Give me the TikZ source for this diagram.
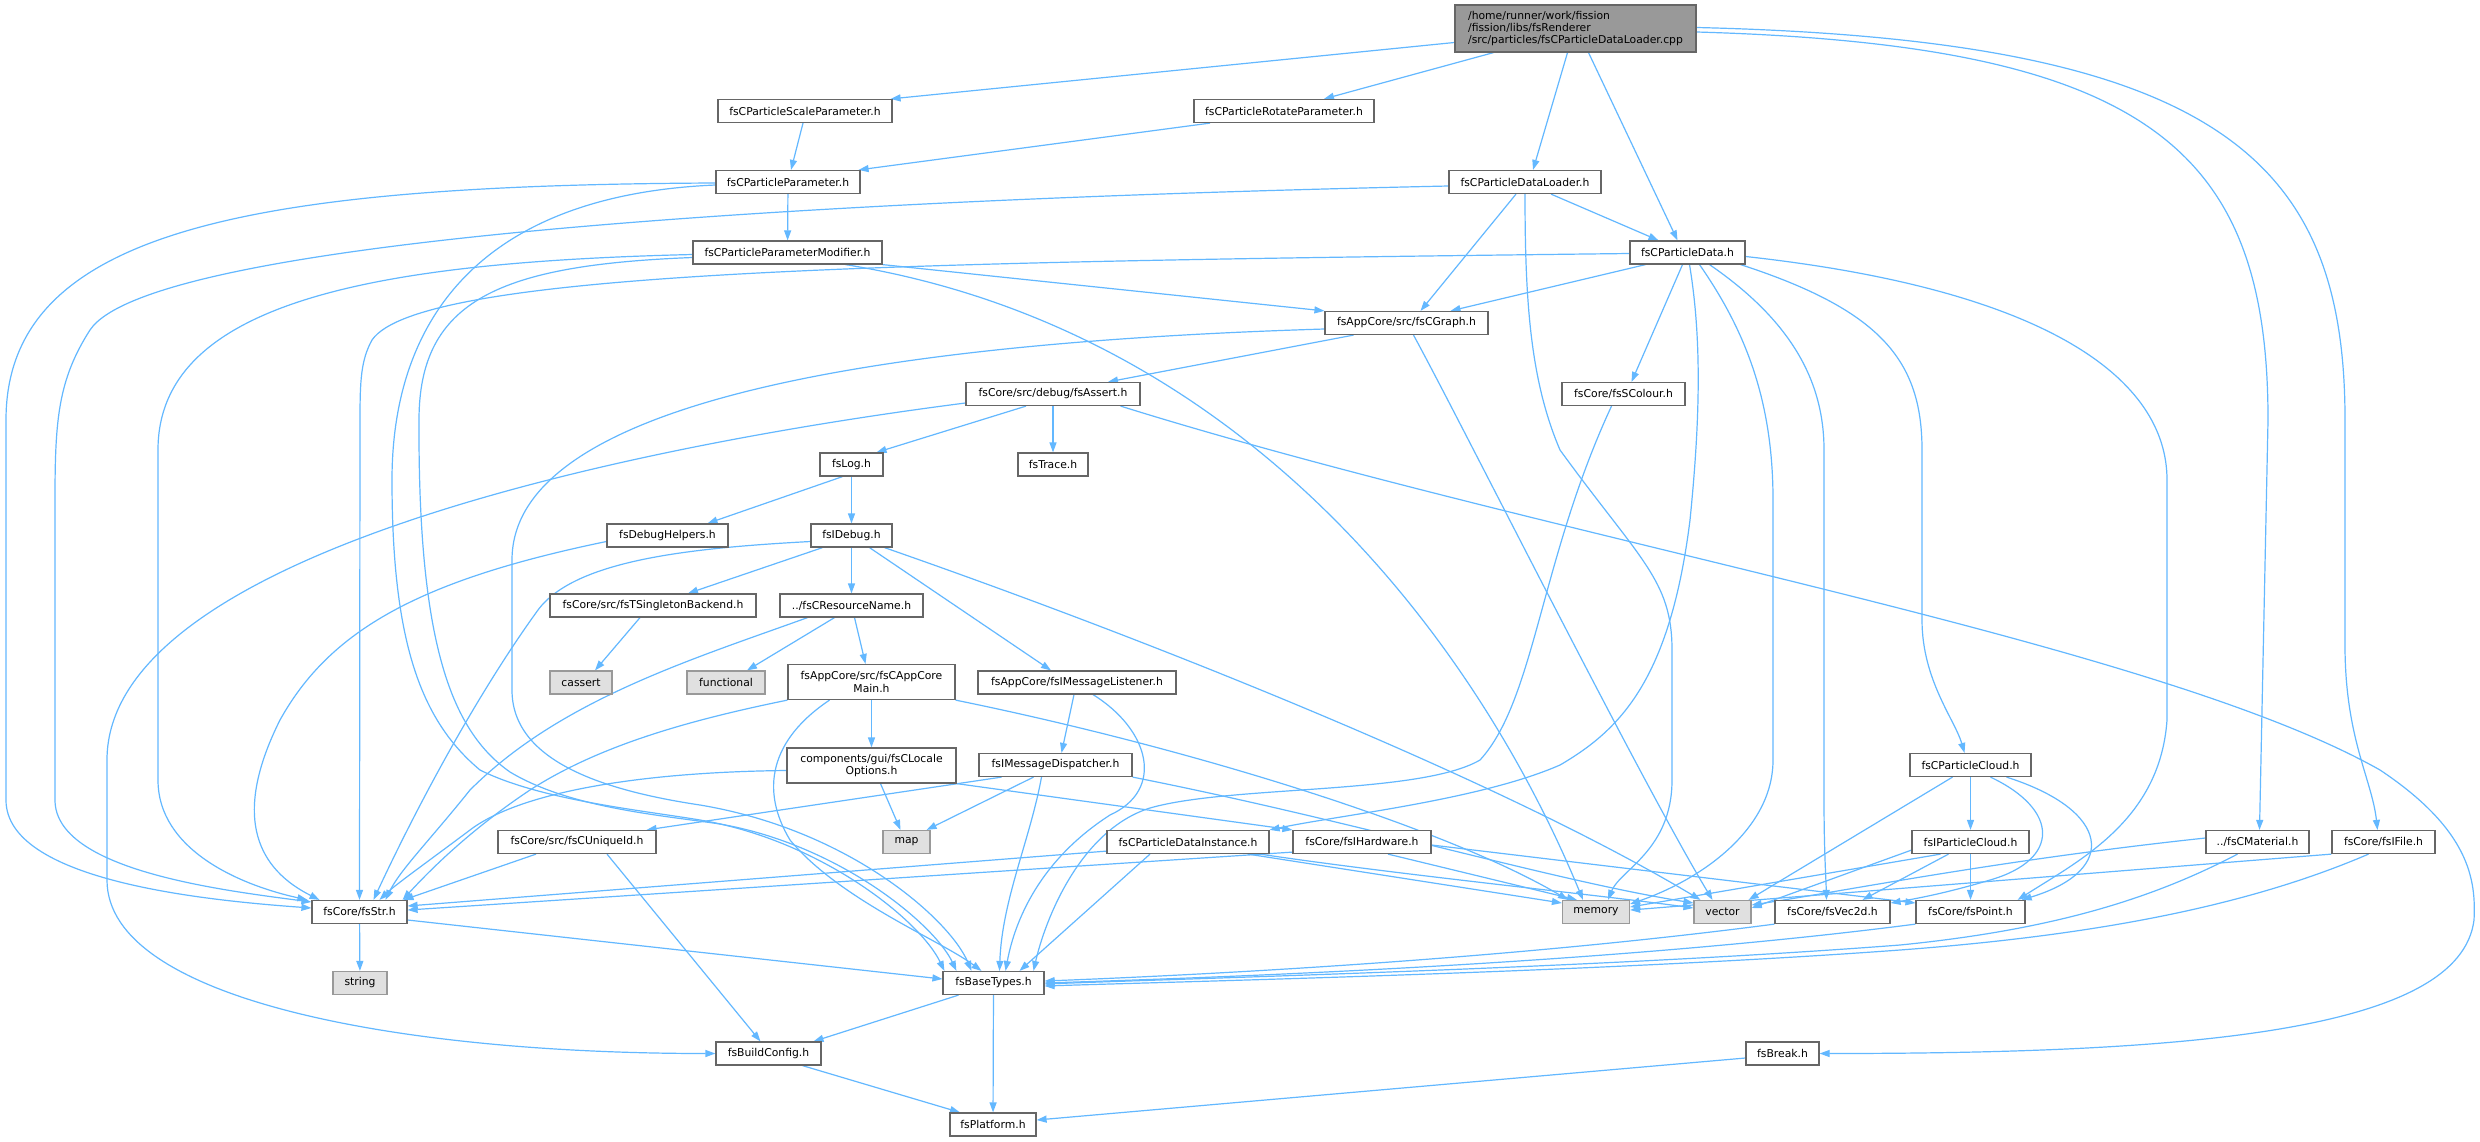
\documentclass[tikz,border=0pt]{standalone}
\usepackage{fontspec}
\setmainfont{DejaVu Sans}
\usetikzlibrary{arrows.meta}
\definecolor{edgec}{HTML}{63B8FF}
\definecolor{nodeb}{HTML}{666666}
\definecolor{sysf}{HTML}{E0E0E0}
\definecolor{sysb}{HTML}{999999}
\definecolor{rootf}{HTML}{999999}
\pgfdeclarelayer{paper}
\pgfdeclarelayer{bg}
\pgfsetlayers{paper,bg,main}
\begin{document}
\begin{tikzpicture}[x=1pt,y=-1pt,
  box/.style={draw=nodeb, fill=white, line width=1.2pt, inner sep=0pt, minimum height=23pt, font=\fontsize{10.8}{12.3}\selectfont, text=black},
  sys/.style={box, fill=sysf, draw=sysb},
  rootbox/.style={box, fill=rootf, draw=nodeb, align=left},
  two/.style={align=center, minimum height=35pt},
  dep/.style={draw=edgec, line width=1.2pt, -{Triangle[length=10pt,width=7pt]}}]
\useasboundingbox (0,0) rectangle (2480,1141);
\begin{pgfonlayer}{paper}
\fill[white] (0,0) rectangle (2480,1141);
\end{pgfonlayer}

% nodes
\node[rootbox, minimum width=241pt, minimum height=47pt] (root) at (1575.5,28.5) {/home/runner/work/fission\\/fission/libs/fsRenderer\\/src/particles/fsCParticleDataLoader.cpp};
\node[box, minimum width=174pt] (scale) at (805,111) {fsCParticleScaleParameter.h};
\node[box, minimum width=180pt] (rotate) at (1284,111) {fsCParticleRotateParameter.h};
\node[box, minimum width=144pt] (param) at (788,182) {fsCParticleParameter.h};
\node[box, minimum width=152pt] (loader) at (1525,182) {fsCParticleDataLoader.h};
\node[box, minimum width=189pt] (modifier) at (787.5,252.5) {fsCParticleParameterModifier.h};
\node[box, minimum width=115pt] (pdata) at (1687.5,252.5) {fsCParticleData.h};
\node[box, minimum width=163pt] (graph) at (1406.5,323) {fsAppCore/src/fsCGraph.h};
\node[box, minimum width=174pt] (assert) at (1053,394) {fsCore/src/debug/fsAssert.h};
\node[box, minimum width=123pt] (colour) at (1623.5,394) {fsCore/fsSColour.h};
\node[box, minimum width=63pt] (log) at (851.5,464.5) {fsLog.h};
\node[box, minimum width=70pt] (trace) at (1053,464.5) {fsTrace.h};
\node[box, minimum width=121pt] (debughelpers) at (667.5,535.5) {fsDebugHelpers.h};
\node[box, minimum width=81pt] (idebug) at (851.5,535.5) {fsIDebug.h};
\node[box, minimum width=206pt] (singleton) at (653,605.5) {fsCore/src/fsTSingletonBackend.h};
\node[box, minimum width=143pt] (resname) at (851.5,605.5) {../fsCResourceName.h};
\node[sys, minimum width=62pt] (cassert) at (581,682.5) {cassert};
\node[sys, minimum width=78pt] (functional) at (726,682.5) {functional};
\node[box, two, minimum width=167pt] (appcore) at (871.5,682) {fsAppCore/src/fsCAppCore\\Main.h};
\node[box, minimum width=198pt] (listener) at (1077,682.5) {fsAppCore/fsIMessageListener.h};
\node[box, two, minimum width=169pt] (locale) at (871.5,765.5) {components/gui/fsCLocale\\Options.h};
\node[box, minimum width=153pt] (dispatcher) at (1055.5,765) {fsIMessageDispatcher.h};
\node[box, minimum width=121pt] (pcloud) at (1970.5,765) {fsCParticleCloud.h};
\node[box, minimum width=158pt] (uniqueid) at (577,842) {fsCore/src/fsCUniqueId.h};
\node[sys, minimum width=47pt] (map) at (906.5,842) {map};
\node[box, minimum width=162pt] (instance) at (1188,842) {fsCParticleDataInstance.h};
\node[box, minimum width=138pt] (hardware) at (1362,842) {fsCore/fsIHardware.h};
\node[box, minimum width=117pt] (ipcloud) at (1970.5,842) {fsIParticleCloud.h};
\node[box, minimum width=103pt] (material) at (2257.5,842) {../fsCMaterial.h};
\node[box, minimum width=103pt] (ifile) at (2383.5,842) {fsCore/fsIFile.h};
\node[box, minimum width=95pt] (str) at (359.5,912) {fsCore/fsStr.h};
\node[sys, minimum width=67pt] (memory) at (1596,912) {memory};
\node[sys, minimum width=57pt] (vector) at (1722.5,912) {vector};
\node[box, minimum width=115pt] (vec2d) at (1832.5,912) {fsCore/fsVec2d.h};
\node[box, minimum width=109pt] (point) at (1970.5,912) {fsCore/fsPoint.h};
\node[sys, minimum width=54pt] (string) at (360,983) {string};
\node[box, minimum width=101pt] (basetypes) at (993.5,983) {fsBaseTypes.h};
\node[box, minimum width=105pt] (buildconfig) at (768.5,1053.5) {fsBuildConfig.h};
\node[box, minimum width=73pt] (break) at (1782.5,1053.5) {fsBreak.h};
\node[box, minimum width=86pt] (platform) at (993,1124.5) {fsPlatform.h};

\begin{pgfonlayer}{bg}
% root
\draw[dep] ([yshift=-14pt]root.west) -- ([xshift=-2pt]scale.north east);
\draw[dep] ([xshift=-82pt]root.south) -- ([xshift=40pt]rotate.north);
\draw[dep] ([xshift=-8pt]root.south) -- ([xshift=8pt]loader.north);
\draw[dep] ([xshift=13pt]root.south) -- ([xshift=-10pt]pdata.north);
\draw[dep] ([yshift=-3.5pt]root.east) .. controls (2150,45) and (2268,150) .. (2268,420) -- ([xshift=2pt]material.north);
\draw[dep] ([yshift=1pt]root.east) .. controls (2220,40) and (2345,160) .. (2345,420) -- (2345,650) .. controls (2346,740) and (2372,780) .. ([xshift=-6pt]ifile.north);
% scale, rotate
\draw[dep] ([xshift=-2pt]scale.south) -- ([xshift=3pt]param.north);
\draw[dep] ([xshift=-74pt]rotate.south) -- ([xshift=-2pt]param.north east);
% param
\draw[dep] (param) -- (modifier);
\draw[dep] ([yshift=-1pt]param.west) .. controls (250,185) and (6,230) .. (6,420) -- (6,800) .. controls (6,880) and (200,900) .. ([yshift=4pt]str.west);
\draw[dep] ([yshift=-3pt]param.west) .. controls (480,195) and (392,320) .. (392,480) .. controls (392,640) and (420,720) .. (480,770) .. controls (540,800) and (640,810) .. (700,820) .. controls (820,840) and (920,920) .. ([xshift=2pt]basetypes.north west);
% modifier
\draw[dep] ([yshift=-5pt]modifier.west) .. controls (500,265) and (419,300) .. (419,420) .. controls (418,640) and (450,730) .. (510,772) .. controls (570,808) and (660,815) .. (720,824) .. controls (840,845) and (935,925) .. ([xshift=14pt]basetypes.north west);
\draw[dep] ([yshift=-2pt]modifier.west) .. controls (380,262) and (158,300) .. (158,450) -- (158,780) .. controls (158,850) and (240,885) .. ([xshift=-4pt]str.north west);
\draw[dep] (modifier.south east) -- (graph.north west);
\draw[dep] ([xshift=58pt]modifier.south) .. controls (1250,330) and (1480,650) .. ([xshift=-13pt]memory.north);
% loader
\draw[dep] ([xshift=26pt]loader.south) -- ([xshift=-29pt]pdata.north);
\draw[dep] ([xshift=-9pt]loader.south) -- ([xshift=14pt]graph.north);
\draw[dep] ([yshift=-4pt]loader.west) .. controls (800,200) and (150,240) .. (90,330) .. controls (58,380) and (55,420) .. (55,500) -- (55,800) .. controls (55,870) and (220,890) .. ([yshift=10pt]str.west);
\draw[dep] (loader.south) .. controls (1525,300) and (1530,380) .. (1560,450) .. controls (1640,560) and (1672,580) .. (1672,650) -- (1672,780) .. controls (1672,850) and (1620,870) .. ([xshift=12pt]memory.north);
% pdata
\draw[dep] ([xshift=-42pt]pdata.south) -- ([xshift=44pt]graph.north);
\draw[dep] ([yshift=-1pt]pdata.west) .. controls (900,262) and (420,270) .. (372,340) .. controls (361,360) and (360,380) .. (360,420) -- (str.north);
\draw[dep] ([xshift=-5pt]pdata.south) -- ([xshift=8pt]colour.north);
\draw[dep] ([xshift=2pt]pdata.south) .. controls (1702,340) and (1700,420) .. (1690,520) .. controls (1670,680) and (1620,730) .. (1560,765) .. controls (1480,800) and (1340,815) .. (instance.north east);
\draw[dep] ([xshift=12pt]pdata.south) .. controls (1745,330) and (1773,400) .. (1773,500) -- (1773,760) .. controls (1773,830) and (1700,880) .. ([yshift=8pt]memory.east);
\draw[dep] ([xshift=22pt]pdata.south) .. controls (1790,320) and (1824,380) .. (1824,450) -- (1824,800) .. controls (1824,850) and (1826,880) .. ([xshift=-6pt]vec2d.north);
\draw[dep] ([xshift=-5pt]pdata.south east) .. controls (1880,310) and (1922,360) .. (1922,450) -- (1922,620) .. controls (1922,680) and (1955,720) .. ([xshift=-6pt]pcloud.north);
\draw[dep] ([yshift=-4pt]pdata.east) .. controls (2050,290) and (2167,380) .. (2167,480) -- (2167,720) .. controls (2160,820) and (2080,860) .. ([xshift=-8pt]point.north east);
% graph
\draw[dep] ([xshift=-53pt]graph.south) -- ([xshift=55pt]assert.north);
\draw[dep] ([yshift=-6pt]graph.west) .. controls (800,345) and (512,420) .. (512,560) -- (512,690) .. controls (512,760) and (600,790) .. (700,805) .. controls (850,830) and (950,920) .. ([xshift=-22pt]basetypes.north);
\draw[dep] ([xshift=7pt]graph.south) .. controls (1460,420) and (1640,780) .. ([xshift=-10pt]vector.north);
% colour
\draw[dep] ([xshift=-12pt]colour.south) .. controls (1540,560) and (1535,700) .. (1480,760) .. controls (1420,795) and (1230,785) .. (1150,808) .. controls (1080,830) and (1045,920) .. ([xshift=40pt]basetypes.north);
% assert
\draw[dep] ([xshift=-27pt]assert.south) -- ([xshift=25pt]log.north);
\draw[dep] (assert) -- (trace);
\draw[dep] ([yshift=-9pt]assert.west) .. controls (600,450) and (107,560) .. (107,760) -- (107,880) .. controls (107,1000) and (400,1053.5) .. (buildconfig.west);
\draw[dep] ([xshift=-20pt]assert.south east) .. controls (1550,540) and (2150,640) .. (2380,770) .. controls (2470,830) and (2476,880) .. (2474,920) .. controls (2460,1030) and (2200,1053.5) .. (break.east);
% log
\draw[dep] ([xshift=-9pt]log.south) -- ([xshift=40pt]debughelpers.north);
\draw[dep] (log) -- (idebug);
% debughelpers
\draw[dep] ([yshift=-6pt]debughelpers.west) .. controls (420,580) and (330,630) .. (280,720) .. controls (230,820) and (260,870) .. ([xshift=-40pt]str.north);
% idebug
\draw[dep] ([yshift=-6pt]idebug.west) .. controls (690,548) and (575,560) .. (538,610) .. controls (480,690) and (420,800) .. ([xshift=14pt]str.north);
\draw[dep] ([xshift=-29pt]idebug.south) -- ([xshift=35pt]singleton.north);
\draw[dep] (idebug) -- (resname);
\draw[dep] ([xshift=18pt]idebug.south) -- ([xshift=-26pt]listener.north);
\draw[dep] ([xshift=33pt]idebug.south) .. controls (1150,640) and (1500,780) .. ([xshift=-22pt]vector.north);
% singleton, resname
\draw[dep] ([xshift=-13pt]singleton.south) -- ([xshift=14pt]cassert.north);
\draw[dep] ([xshift=-17pt]resname.south) -- ([xshift=21pt]functional.north);
\draw[dep] ([xshift=3pt]resname.south) -- ([xshift=-6pt]appcore.north);
\draw[dep] ([xshift=-44pt]resname.south) .. controls (690,660) and (560,700) .. (470,790) .. controls (430,840) and (400,870) .. ([xshift=26pt]str.north);
% appcore
\draw[dep] (appcore) -- (locale);
\draw[dep] (appcore.south west) .. controls (690,720) and (600,745) .. (530,790) .. controls (470,830) and (430,870) .. ([xshift=-5pt]str.north east);
\draw[dep] ([xshift=-42pt]appcore.south) .. controls (770,740) and (760,790) .. (790,840) .. controls (840,900) and (940,940) .. ([xshift=-12pt]basetypes.north);
\draw[dep] (appcore.south east) .. controls (1200,750) and (1450,830) .. ([xshift=-28pt]memory.north);
% locale
\draw[dep] ([xshift=9pt]locale.south) -- ([xshift=-6pt]map.north);
\draw[dep] ([yshift=-5pt]locale.west) .. controls (640,772) and (520,792) .. (470,830) .. controls (430,860) and (395,885) .. ([xshift=20pt]str.north);
\draw[dep] (locale.south east) -- (hardware.north west);
% listener
\draw[dep] ([xshift=-3pt]listener.south) -- ([xshift=6pt]dispatcher.north);
\draw[dep] ([xshift=16pt]listener.south) .. controls (1150,730) and (1165,790) .. (1110,815) .. controls (1040,860) and (1015,920) .. ([xshift=12pt]basetypes.north);
% dispatcher
\draw[dep] ([xshift=-54pt]dispatcher.south) -- ([xshift=-10pt]uniqueid.north east);
\draw[dep] ([xshift=-22pt]dispatcher.south) -- ([xshift=-4pt]map.north east);
\draw[dep] ([xshift=-14pt]dispatcher.south) .. controls (1030,840) and (1002,900) .. ([xshift=6pt]basetypes.north);
\draw[dep] (dispatcher.south east) .. controls (1350,820) and (1550,880) .. ([yshift=9pt]vector.west);
% uniqueid
\draw[dep] ([xshift=-41pt]uniqueid.south) -- ([xshift=44pt]str.north);
\draw[dep] ([xshift=30pt]uniqueid.south) -- ([xshift=-8pt]buildconfig.north);
% instance
\draw[dep] ([yshift=3pt]instance.south west) -- ([yshift=6pt]str.east);
\draw[dep] ([xshift=-38pt]instance.south) -- ([xshift=26pt]basetypes.north);
\draw[dep] ([xshift=60pt]instance.south) -- ([yshift=9pt]memory.west);
\draw[dep] ([xshift=72pt]instance.south) .. controls (1400,875) and (1600,895) .. ([yshift=4pt]vector.west);
% hardware
\draw[dep] ([yshift=2pt]hardware.south west) -- ([yshift=2pt]str.east);
\draw[dep] ([xshift=26pt]hardware.south) -- ([xshift=-19pt]memory.north);
\draw[dep] ([yshift=-3pt]hardware.east) -- ([yshift=9pt]point.west);
% pcloud
\draw[dep] (pcloud) -- (ipcloud);
\draw[dep] ([xshift=-18pt]pcloud.south) -- ([xshift=-3pt]vector.north east);
\draw[dep] ([xshift=20pt]pcloud.south) .. controls (2060,810) and (2060,860) .. (1990,880) .. controls (1950,892) and (1920,898) .. ([yshift=9pt]vec2d.east);
\draw[dep] ([xshift=36pt]pcloud.south) .. controls (2110,810) and (2120,870) .. ([xshift=-4pt]point.north east);
% ipcloud
\draw[dep] ([xshift=-30pt]ipcloud.south) -- ([yshift=5pt]memory.east);
\draw[dep] ([yshift=4pt]ipcloud.south west) -- ([yshift=4pt]vector.east);
\draw[dep] ([xshift=-22pt]ipcloud.south) -- ([xshift=30pt]vec2d.north);
\draw[dep] (ipcloud) -- (point);
% material, ifile
\draw[dep] ([yshift=4pt]material.west) .. controls (2000,860) and (1850,890) .. ([yshift=7pt]vector.east);
\draw[dep] ([xshift=-20pt]material.south) .. controls (2150,900) and (2050,930) .. (1900,945) .. controls (1600,968) and (1200,978) .. ([yshift=-1pt]basetypes.east);
\draw[dep] (ifile.south west) -- ([yshift=2pt]memory.east);
\draw[dep] ([xshift=-15pt]ifile.south) .. controls (2250,905) and (2100,935) .. (1900,950) .. controls (1600,972) and (1200,981) .. ([yshift=-3pt]basetypes.east);
% vec2d, point
\draw[dep] (vec2d.south west) .. controls (1500,960) and (1200,975) .. ([yshift=2pt]basetypes.east);
\draw[dep] (point.south west) .. controls (1600,965) and (1200,978) .. (basetypes.east);
% bottom
\draw[dep] (str) -- (string);
\draw[dep] ([yshift=-8pt]str.east) -- ([yshift=4pt]basetypes.west);
\draw[dep] ([xshift=-35pt]basetypes.south) -- ([xshift=45pt]buildconfig.north);
\draw[dep] (basetypes) -- (platform);
\draw[dep] ([xshift=34pt]buildconfig.south) -- ([xshift=-33pt]platform.north);
\draw[dep] ([yshift=-4.5pt]break.west) -- ([yshift=4.5pt]platform.east);
\end{pgfonlayer}
\end{tikzpicture}
\end{document}
